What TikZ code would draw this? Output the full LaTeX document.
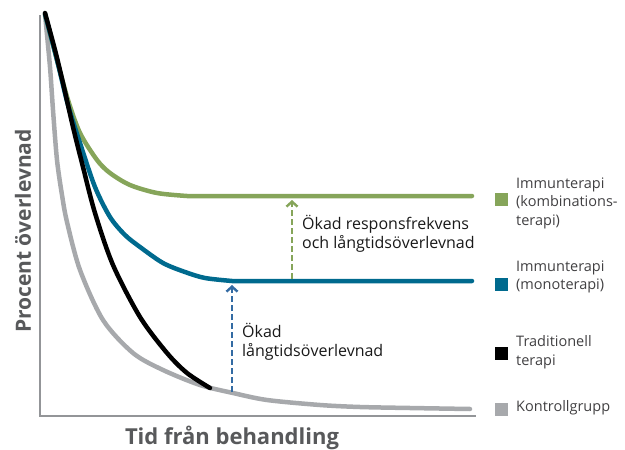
\documentclass[tikz,border=0pt]{standalone}
\usepackage{fontspec}
\setmainfont{Open Sans}
\usetikzlibrary{arrows.meta}

\definecolor{kombiGreen}{HTML}{86A55A}
\definecolor{monoTeal}{HTML}{006A8E}
\definecolor{ctrlGray}{HTML}{A7A9AC}
\definecolor{axisGray}{HTML}{939598}
\definecolor{labelGray}{HTML}{58595B}
\definecolor{legendGray}{HTML}{414042}
\definecolor{gainBlue}{HTML}{336BA3}

\begin{document}
\begin{tikzpicture}[x=1pt, y=-1pt,
    curve/.style={line width=4.5pt, line cap=round, line join=round},
    gain/.style={line width=2.6pt, dash pattern=on 6pt off 3pt,
        -{Straight Barb[length=5pt, width=11pt, line width=2.4pt]}},
    legbox/.style={minimum size=13pt, inner sep=0pt},
    legtext/.style={anchor=west, align=left, inner sep=0pt, text=legendGray,
        font=\fontsize{14.5}{18.5}\selectfont},
    note/.style={anchor=west, align=left, inner sep=0pt, text=black!90,
        font=\fontsize{16}{19}\selectfont},
    axislabel/.style={text=labelGray, font=\fontsize{21}{24}\selectfont\bfseries}]
    % Size of the page
    \useasboundingbox (0,0) rectangle (625,450);

    % Axes
    \draw[axisGray, line width=1.5pt] (40,15) -- (40,416) -- (476,416);
    \node[axislabel, rotate=90] (ylab) at (23,231) {Procent överlevnad};
    \node[axislabel, anchor=base, font=\fontsize{22}{24}\selectfont\bfseries] (xlab) at (232,444) {Tid från behandling};

    % Control group
    \draw[curve, ctrlGray] plot[smooth] coordinates {(45,14) (50,67) (53,110)
        (57,160) (62,195) (67,222) (80,270) (103,320) (133,353) (163,370)
        (200,385) (233,393) (267,400) (320,405) (360,407) (410,408) (470,409)};

    % Immunotherapy (combination)
    \draw[curve, kombiGreen] plot[smooth] coordinates {(45,14) (57,60) (68,100)
        (80,133) (97,160) (110,173) (130,185) (157,193) (187,196)} -- (472,196);

    % Immunotherapy (mono)
    \draw[curve, monoTeal] plot[smooth] coordinates {(45,14) (57,60) (68,105)
        (80,143) (95,187) (110,217) (125,235) (140,247) (163,263) (185,272)
        (205,278) (232,281)} -- (472,281);

    % Traditional therapy
    \draw[curve, black] plot[smooth] coordinates {(45,13) (55,50) (63,83)
        (73,127) (83,167) (95,213) (113,265) (140,317) (167,353) (187,373)
        (210,388)};

    % Gains
    \coordinate (ctrlAt) at (232,392);
    \coordinate (monoAt) at (232,285);
    \coordinate (monoFrom) at (292,279);
    \coordinate (kombiAt) at (292,200);
    \draw[gain, gainBlue] (ctrlAt) -- (monoAt);
    \draw[gain, kombiGreen] (monoFrom) -- (kombiAt);
    \node[note] (noteLong) at (242,342) {Ökad\\långtidsöverlevnad};
    \node[note] (noteResp) at (302,234) {Ökad responsfrekvens\\och långtidsöverlevnad};

    % Legend
    \node[legbox, fill=kombiGreen] (boxKombi) at (501,199) {};
    \node[legbox, fill=monoTeal] (boxMono) at (501,284) {};
    \node[legbox, fill=black] (boxTrad) at (501,353) {};
    \node[legbox, fill=ctrlGray] (boxCtrl) at (501,409) {};
    \node[legtext] (txtKombi) at (516,203) {Immunterapi\\(kombinations-\\terapi)};
    \node[legtext] (txtMono) at (516,277) {Immunterapi\\(monoterapi)};
    \node[legtext] (txtTrad) at (516,352) {Traditionell\\terapi};
    \node[legtext] (txtCtrl) at (516,408) {Kontrollgrupp};
\end{tikzpicture}
\end{document}
